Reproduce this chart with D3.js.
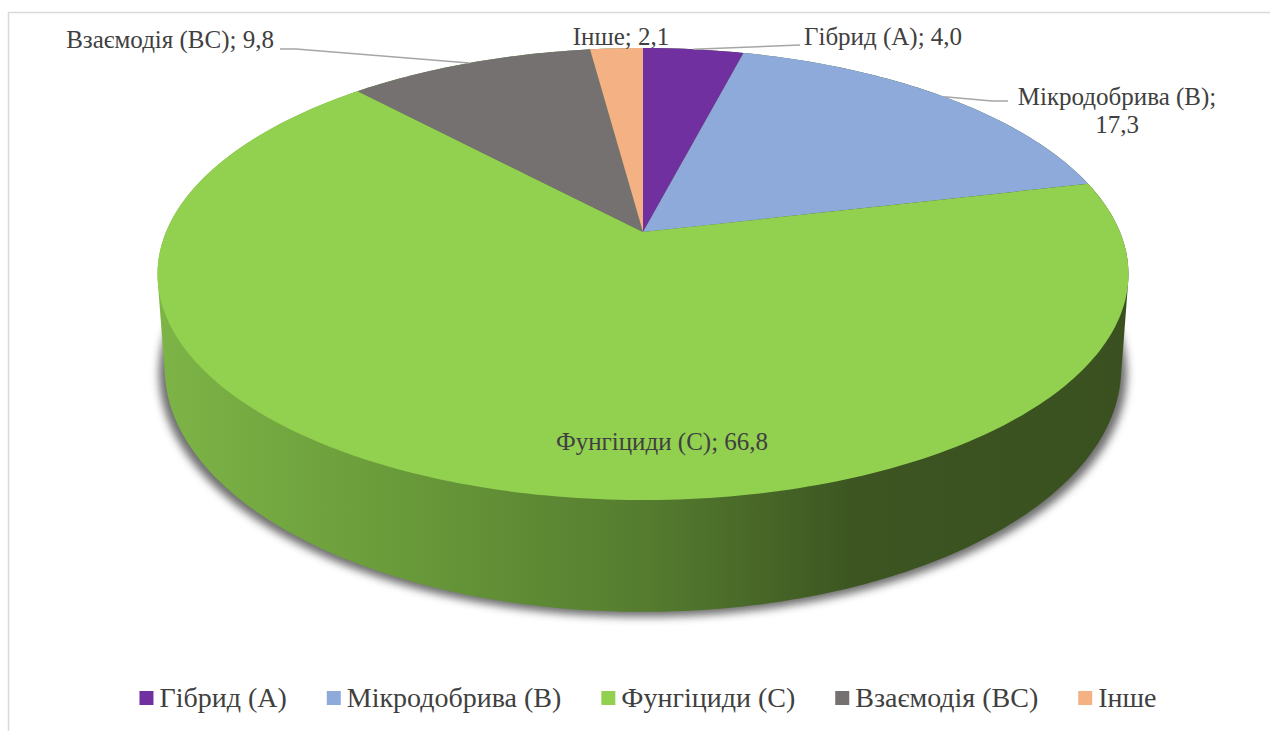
<!DOCTYPE html>
<html lang="uk"><head><meta charset="utf-8">
<script src="https://cdn.jsdelivr.net/npm/d3@7"></script>
<style>
body{margin:0;background:#fff;}
#wrap{position:relative;width:1270px;height:731px;}
#chart{position:absolute;left:0;top:0;display:block;}
.lab{position:absolute;white-space:nowrap;line-height:1;color:#404040;font-family:"Liberation Serif","Times New Roman",Tinos,serif;}
</style>
</head><body>
<div id="wrap"><svg id="chart" width="1270" height="731"></svg></div>
<script>
const categories = ["Гібрид (А)", "Мікродобрива (В)", "Фунгіциди (С)", "Взаємодія (ВС)", "Інше"];
const values = [4.0, 17.3, 66.8, 9.8, 2.1];
const valueLabels = ["4,0", "17,3", "66,8", "9,8", "2,1"];
const colors = ["#7030a0", "#8eaadb", "#92d050", "#767171", "#f4b183"];

const svg = d3.select("#chart");
const wrap = d3.select("#wrap");

// border
svg.append("rect").attr("x", 8.5).attr("y", 12.5).attr("width", 1300).attr("height", 800)
  .attr("fill", "#fff").attr("stroke", "#d9d9d9").attr("stroke-width", 1.5);

// perspective projection of the pie disc
const P = {cx: 643, cy: 232, A: 477, B: 218.2, k: 0.186, H: 91, sb: 0.985};
function proj(theta, bottom) {
  const u = Math.sin(theta), v = -Math.cos(theta), den = 1 - P.k * v;
  const s = bottom ? P.sb : 1;
  return [P.cx + P.A * s * u / den, P.cy + P.B * v / den + (bottom ? P.H / den : 0)];
}

const pie = d3.pie().sort(null).value(d => d)(values);

const defs = svg.append("defs");
const grad = defs.append("linearGradient").attr("id", "sideGrad")
  .attr("gradientUnits", "userSpaceOnUse").attr("x1", 160).attr("x2", 1130).attr("y1", 0).attr("y2", 0);
[[0, "#7db446"], [0.25, "#699a3a"], [0.5, "#557c2f"], [0.72, "#3c5521"], [1, "#3a5020"]]
  .forEach(([o, c]) => grad.append("stop").attr("offset", o).attr("stop-color", c));
const f = defs.append("filter").attr("id", "shadow").attr("x", "-10%").attr("y", "-10%").attr("width", "120%").attr("height", "130%");
f.append("feGaussianBlur").attr("stdDeviation", 4);

// shadow
const N = 360;
const bottomPts = d3.range(N).map(i => proj(i / N * 2 * Math.PI, true));
const shadowPts = bottomPts.map(([x, y]) => [P.cx + (x - P.cx) * 1.012, y + 5]);
svg.append("path").attr("d", "M" + shadowPts.join("L") + "Z")
  .attr("fill", "#555").attr("opacity", 0.85).attr("filter", "url(#shadow)");

// side (convex hull of top & bottom rims)
const topPts = d3.range(N).map(i => proj(i / N * 2 * Math.PI, false));
const hull = d3.polygonHull(topPts.concat(bottomPts));
svg.append("path").attr("d", "M" + hull.join("L") + "Z").attr("fill", "url(#sideGrad)");

// top slices
function slicePath(a0, a1) {
  const n = Math.max(4, Math.ceil((a1 - a0) / (Math.PI / 180)));
  const pts = d3.range(n + 1).map(i => proj(a0 + (a1 - a0) * i / n, false));
  return "M" + [P.cx, P.cy] + "L" + pts.join("L") + "Z";
}
svg.selectAll("path.slice").data(pie).join("path").attr("class", "slice")
  .attr("d", d => slicePath(d.startAngle, d.endAngle))
  .attr("fill", (d, i) => colors[i]);

// HTML text positioned by baseline
function addText(x, y, s, size, anchor) {
  const tx = anchor === "middle" ? "-50%" : anchor === "end" ? "-100%" : "0";
  return wrap.append("div").attr("class", "lab")
    .style("left", x + "px").style("top", (y - 0.8375 * size) + "px")
    .style("font-size", size + "px").style("transform", `translateX(${tx})`).text(s);
}
const mid = d => (d.startAngle + d.endAngle) / 2;
const lineC = "#a6a6a6";
const LS = 25;
// Гібрид
{
  const a = proj(mid(pie[0]), false);
  svg.append("polyline").attr("points", [a, [800, 45]].join(" ")).attr("fill", "none").attr("stroke", lineC).attr("stroke-width", 1.5);
  addText(804, 45, categories[0] + "; " + valueLabels[0], LS);
}
// Мікродобрива
{
  const a = proj(mid(pie[1]), false);
  svg.append("polyline").attr("points", [a, [992, 101], [1008, 101]].join(" ")).attr("fill", "none").attr("stroke", lineC).attr("stroke-width", 1.5);
  addText(1117, 105, categories[1] + ";", LS, "middle");
  addText(1117, 133, valueLabels[1], LS, "middle");
}
// Фунгіциди
addText(662, 450, categories[2] + "; " + valueLabels[2], LS, "middle");
// Взаємодія
{
  const a = proj(mid(pie[3]), false);
  svg.append("polyline").attr("points", [a, [296, 49], [280, 49]].join(" ")).attr("fill", "none").attr("stroke", lineC).attr("stroke-width", 1.5);
  addText(274, 48, categories[3] + "; " + valueLabels[3], LS, "end");
}
// Інше
addText(621, 45, categories[4] + "; " + valueLabels[4], LS, "middle");

// legend
const LG = 28;
const divs = categories.map(c => addText(0, 707, c, LG));
const widths = divs.map(d => 20 + d.node().getBoundingClientRect().width);
const gap = 40;
const total = d3.sum(widths) + gap * (widths.length - 1);
let x0 = 648 - total / 2;
categories.forEach((c, i) => {
  svg.append("rect").attr("x", x0).attr("y", 691).attr("width", 14).attr("height", 14).attr("fill", colors[i]);
  divs[i].style("left", (x0 + 20) + "px");
  x0 += widths[i] + gap;
});
</script>
</body></html>
